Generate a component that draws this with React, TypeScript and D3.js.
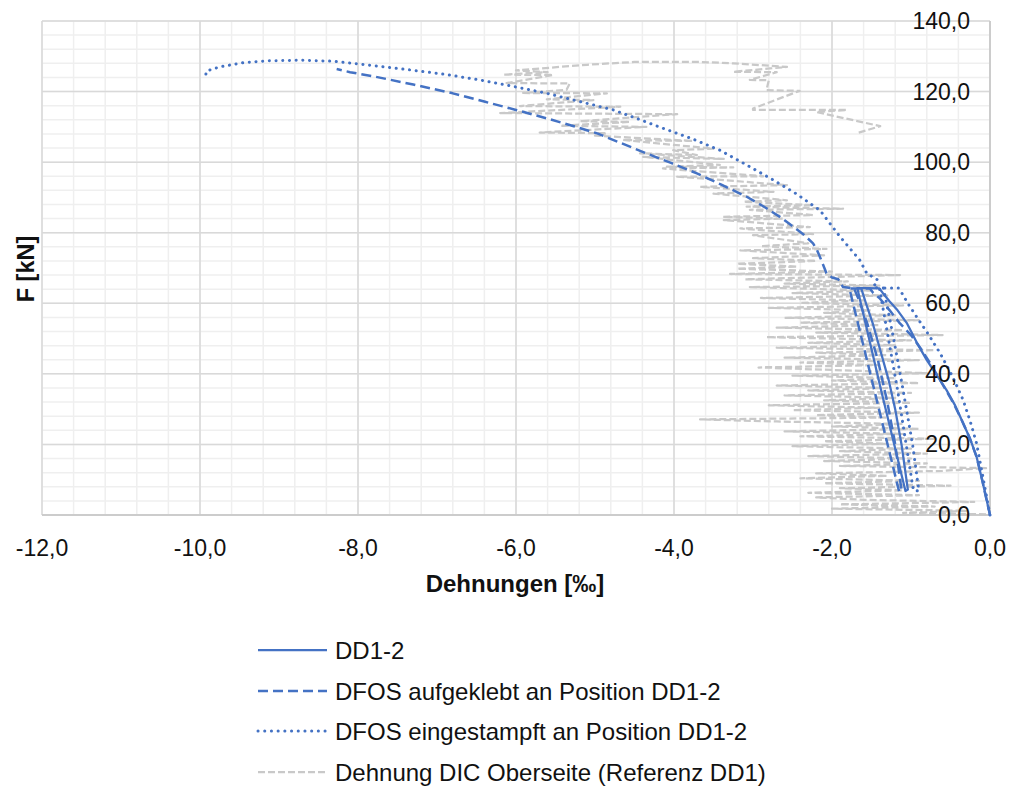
import React from "react";
import * as d3 from "d3";

type P = [number, number];

const xTicks = [-12, -10, -8, -6, -4, -2, 0];
const yTicks = [0, 20, 40, 60, 80, 100, 120, 140];

const seriesNames = [
  "DD1-2",
  "DFOS aufgeklebt an Position DD1-2",
  "DFOS eingestampft an Position DD1-2",
  "Dehnung DIC Oberseite (Referenz DD1)",
];

const dd12: P[] = [
  [0, 0], [-0.05, 5], [-0.1, 10], [-0.17, 16.5], [-0.25, 21.5], [-0.34, 26], [-0.44, 31],
  [-0.55, 35.4], [-0.67, 39.5], [-0.8, 43.9], [-0.93, 49], [-1.05, 54.3], [-1.17, 58],
  [-1.27, 60.5], [-1.36, 63], [-1.4, 64.2], [-1.55, 64.3], [-1.68, 64.3],
  [-1.38, 35.5], [-1.07, 6.8],
  [-1.04, 7.2], [-1.12, 20], [-1.2, 30], [-1.28, 38], [-1.38, 46], [-1.48, 54],
  [-1.57, 60], [-1.63, 64.2],
];

const dfosGlued: P[] = [
  [0, 0], [-0.05, 5], [-0.1, 10], [-0.17, 16.5], [-0.26, 22], [-0.36, 27], [-0.47, 32],
  [-0.6, 37], [-0.73, 42], [-0.87, 47], [-1.0, 51], [-1.14, 54.3], [-1.27, 58],
  [-1.4, 61.5], [-1.48, 63], [-1.52, 64.2], [-1.78, 64.2],
  [-1.46, 35], [-1.15, 6.6],
  [-1.12, 7], [-1.2, 20], [-1.3, 32], [-1.42, 44], [-1.55, 54], [-1.66, 61], [-1.72, 64.2],
  [-1.86, 64.6], [-1.92, 66.8], [-2.0, 67.3], [-2.07, 68.5], [-2.15, 73], [-2.19, 75.1],
  [-2.24, 77], [-2.36, 79.5], [-2.49, 81.7], [-2.66, 84.5], [-2.87, 87.5], [-3.08, 90.2],
  [-3.4, 93.6], [-3.71, 96.8], [-4.03, 99.7], [-4.35, 102.5], [-4.66, 105.3], [-4.98, 108.2],
  [-5.3, 110.4], [-5.61, 112.4], [-6.0, 114.8], [-6.39, 117.1], [-6.8, 119.5], [-7.3, 122],
  [-7.8, 124.3], [-8.1, 125.5], [-8.27, 126.4],
];

const dfosCast: P[] = [
  [0, 0], [-0.05, 6], [-0.1, 12], [-0.17, 20.3], [-0.25, 26.5], [-0.34, 32.6], [-0.48, 39.5],
  [-0.63, 45.8], [-0.78, 51.2], [-0.93, 56.2], [-1.04, 60], [-1.14, 63.8], [-1.16, 64.3],
  [-1.4, 64.3],
  [-1.17, 35.4], [-0.97, 7],
  [-0.9, 6.8], [-0.98, 20], [-1.1, 35.4], [-1.22, 50], [-1.3, 59], [-1.35, 64.3],
  [-1.48, 64.5], [-1.42, 66.6], [-1.48, 67.4], [-1.56, 68.5], [-1.65, 72.3], [-1.9, 78.9],
  [-2.15, 86.3], [-2.45, 91], [-2.74, 94.9], [-3.08, 99.2], [-3.42, 103.4], [-3.78, 106.7],
  [-4.14, 109.6], [-4.45, 112.2], [-4.77, 114.8], [-5.2, 117.2], [-5.61, 119.5], [-6.0, 121.3],
  [-6.46, 123.3], [-6.9, 124.9], [-7.4, 126.3], [-7.9, 127.6], [-8.31, 128.6], [-8.73, 128.9],
  [-9.16, 128.7], [-9.45, 128.2], [-9.75, 127.0], [-9.92, 125.8], [-9.93, 124.2],
];

const dic: P[] = [
  [-0.05, 0.2], [-1.1, 0.6], [-0.3, 1.2], [-2.0, 1.8], [-0.7, 2.4], [-1.9, 3.0], [-0.2, 3.7],
  [-1.6, 4.3], [-2.2, 5.0], [-0.9, 5.6], [-2.3, 6.3], [-1.1, 7.0], [-1.9, 7.6], [-0.5, 8.3],
  [-2.1, 9.0], [-0.9, 9.7], [-2.4, 10.4], [-1.3, 11.1], [-2.2, 11.8], [-0.6, 12.5], [-0.05, 13.3],
  [-1.9, 13.9], [-0.8, 14.6], [-2.1, 15.3], [-1.0, 16.0], [-2.3, 16.7], [-0.8, 17.4], [-1.9, 18.1],
  [-1.0, 18.8], [-2.5, 19.5], [-1.3, 20.2], [-2.1, 20.9], [-0.7, 21.6], [-2.4, 22.3], [-1.1, 23.0],
  [-2.6, 23.7], [-0.9, 24.4], [-2.0, 25.1], [-1.1, 25.8], [-2.7, 26.5], [-3.67, 27.1], [-1.3, 27.6],
  [-2.2, 28.3], [-0.9, 29.0], [-2.5, 29.7], [-1.4, 30.4], [-2.8, 31.1], [-1.0, 31.8], [-2.1, 32.5],
  [-1.2, 33.2], [-2.6, 33.9], [-1.0, 34.6], [-2.3, 35.3], [-1.3, 36.0], [-2.7, 36.7], [-0.9, 37.4],
  [-2.0, 38.1], [-1.2, 38.8], [-2.5, 39.5], [-0.8, 40.2], [-2.93, 41.8], [-1.4, 42.5], [-2.4, 43.2],
  [-0.9, 43.9], [-2.6, 44.6], [-1.3, 45.3], [-2.2, 46.0], [-0.7, 46.7], [-2.7, 47.4], [-1.2, 48.1],
  [-2.3, 48.8], [-1.0, 49.5], [-2.83, 50.4], [-0.6, 51.0], [-2.2, 51.7], [-1.1, 52.4], [-2.7, 53.1],
  [-1.4, 53.8], [-2.4, 54.5], [-0.9, 55.2], [-2.6, 55.9], [-1.2, 56.6], [-2.1, 57.3], [-1.5, 58.0],
  [-2.8, 58.7], [-1.1, 59.4], [-2.4, 60.1], [-1.6, 60.8], [-2.9, 61.5], [-1.3, 62.2], [-2.5, 62.9],
  [-1.5, 63.6], [-3.04, 64.6], [-1.4, 65.0], [-2.6, 65.6], [-1.8, 66.2], [-3.1, 66.8], [-1.14, 68.0],
  [-3.29, 68.3], [-2.0, 69.0], [-3.2, 69.8], [-2.44, 70.4], [-3.2, 71.2], [-2.2, 72.0], [-3.0, 72.8],
  [-2.1, 73.6], [-3.16, 75.0], [-2.07, 75.4], [-2.9, 76.2], [-2.3, 77.0], [-3.0, 79.3], [-2.24, 79.6],
  [-3.16, 81.2], [-2.28, 81.6], [-3.37, 83.6], [-2.62, 84.0], [-3.38, 84.5], [-2.24, 85.0],
  [-3.04, 86.5], [-1.86, 86.8], [-3.08, 87.4], [-2.24, 87.8], [-3.12, 88.8], [-2.57, 89.2],
  [-3.5, 91.1], [-2.74, 91.6], [-3.67, 93.0], [-2.57, 93.5], [-3.96, 95.9], [-2.87, 96.0],
  [-4.14, 98.2], [-3.25, 98.5], [-4.09, 98.7], [-3.42, 99.2], [-4.39, 101.5], [-3.37, 100.9],
  [-4.43, 102.5], [-3.71, 102.0], [-4.01, 103.4], [-3.5, 103.8], [-4.65, 106.3], [-3.76, 106.0],
  [-5.0, 107.5], [-4.85, 108.2], [-5.7, 108.4], [-4.35, 110.0], [-5.44, 110.3], [-4.56, 111.4],
  [-5.19, 111.6], [-3.96, 113.6], [-6.2, 113.9], [-4.68, 115.7], [-5.95, 115.9], [-5.02, 117.6],
  [-5.61, 117.8], [-4.85, 119.5], [-5.91, 119.6], [-5.36, 120.5], [-5.32, 122.3], [-6.12, 122.4],
  [-5.53, 124.7], [-6.16, 124.8], [-5.6, 125.5], [-6.0, 126.0], [-5.1, 127.6], [-4.5, 128.4],
  [-3.67, 128.4], [-3.25, 128.0], [-2.57, 127.0], [-3.25, 125.6], [-2.7, 125.5], [-3.04, 123.3],
  [-2.8, 123.2], [-2.83, 120.4], [-2.41, 120.2], [-3.0, 115.2], [-3.0, 114.8], [-1.81, 114.8],
  [-2.2, 114.2], [-1.39, 110.2], [-1.67, 108.3],
];

const BLUE = "#4472C4";
const GRAY = "#c9c9c9";
const FONT = "'Liberation Sans', Arial, sans-serif";

export default function App() {
  const W = 1014, H = 791;
  const x = d3.scaleLinear().domain([-12, 0]).range([42, 990]);
  const y = d3.scaleLinear().domain([0, 140]).range([515, 21]);
  const line = d3.line<P>().x((d) => x(d[0])).y((d) => y(d[1]));

  const minorX = d3.range(0, 31).map((i) => -12 + i * 0.4);
  const minorY = d3.range(0, 36).map((i) => i * 4);

  const styles = [
    { stroke: BLUE, width: 2.25, dash: undefined as string | undefined, cap: "butt" },
    { stroke: BLUE, width: 2.5, dash: "10,5", cap: "butt" },
    { stroke: BLUE, width: 3, dash: "0.1,6.6", cap: "round" },
    { stroke: GRAY, width: 2.25, dash: "7,3", cap: "butt" },
  ];
  const data = [dd12, dfosGlued, dfosCast, dic];
  const drawOrder = [3, 0, 1, 2];

  const legendY = [650, 691, 731, 772];
  const fmt = (v: number) => d3.format(".1f")(v).replace(".", ",").replace("−", "-");

  return (
    <svg width={W} height={H} style={{ position: "absolute", left: 0, top: 0, background: "#fff" }}>
      <rect x={0} y={0} width={W} height={H} fill="#fff" />
      {minorX.map((v, i) => (
        <line key={"mx" + i} x1={x(v)} x2={x(v)} y1={y(0)} y2={y(140)} stroke="#efefef" strokeWidth={1.5} />
      ))}
      {minorY.map((v, i) => (
        <line key={"my" + i} x1={x(-12)} x2={x(0)} y1={y(v)} y2={y(v)} stroke="#efefef" strokeWidth={1.5} />
      ))}
      {xTicks.map((v) => (
        <line key={"gx" + v} x1={x(v)} x2={x(v)} y1={y(0)} y2={y(140)} stroke="#d9d9d9" strokeWidth={1.5} />
      ))}
      {yTicks.map((v) => (
        <line key={"gy" + v} x1={x(-12)} x2={x(0)} y1={y(v)} y2={y(v)} stroke="#d9d9d9" strokeWidth={1.5} />
      ))}
      <line x1={x(-12)} x2={x(0)} y1={y(0)} y2={y(0)} stroke="#c6c6c6" strokeWidth={1.5} />
      <line x1={x(0)} x2={x(0)} y1={y(0)} y2={y(140)} stroke="#c6c6c6" strokeWidth={1.5} />

      {drawOrder.map((si) => (
        <path
          key={"s" + si}
          d={line(data[si]) || ""}
          fill="none"
          stroke={styles[si].stroke}
          strokeWidth={styles[si].width}
          strokeDasharray={styles[si].dash}
          strokeLinecap={styles[si].cap as any}
          strokeLinejoin="round"
        />
      ))}

      {xTicks.map((v) => (
        <text key={"tx" + v} x={x(v)} y={555.5} textAnchor="middle" fontFamily={FONT} fontSize={23} fill="#111">
          {fmt(v)}
        </text>
      ))}
      {yTicks.map((v) => (
        <text key={"ty" + v} x={970} y={y(v) + 8} textAnchor="end" fontFamily={FONT} fontSize={23} fill="#111">
          {fmt(v)}
        </text>
      ))}

      <text x={515} y={591.5} textAnchor="middle" fontFamily={FONT} fontSize={24} fontWeight="bold" fill="#111">
        Dehnungen [‰]
      </text>
      <text
        transform={`translate(33.5,${269}) rotate(-90)`}
        textAnchor="middle"
        fontFamily={FONT}
        fontSize={23.5}
        fontWeight="bold"
        fill="#111"
      >
        F [kN]
      </text>

      {seriesNames.map((name, i) => (
        <g key={"lg" + i}>
          <line
            x1={258}
            x2={327}
            y1={legendY[i]}
            y2={legendY[i]}
            stroke={styles[i].stroke}
            strokeWidth={styles[i].width}
            strokeDasharray={styles[i].dash}
            strokeLinecap={styles[i].cap as any}
          />
          <text x={335} y={legendY[i] + 8.5} fontFamily={FONT} fontSize={24} fill="#111">
            {name}
          </text>
        </g>
      ))}
    </svg>
  );
}
